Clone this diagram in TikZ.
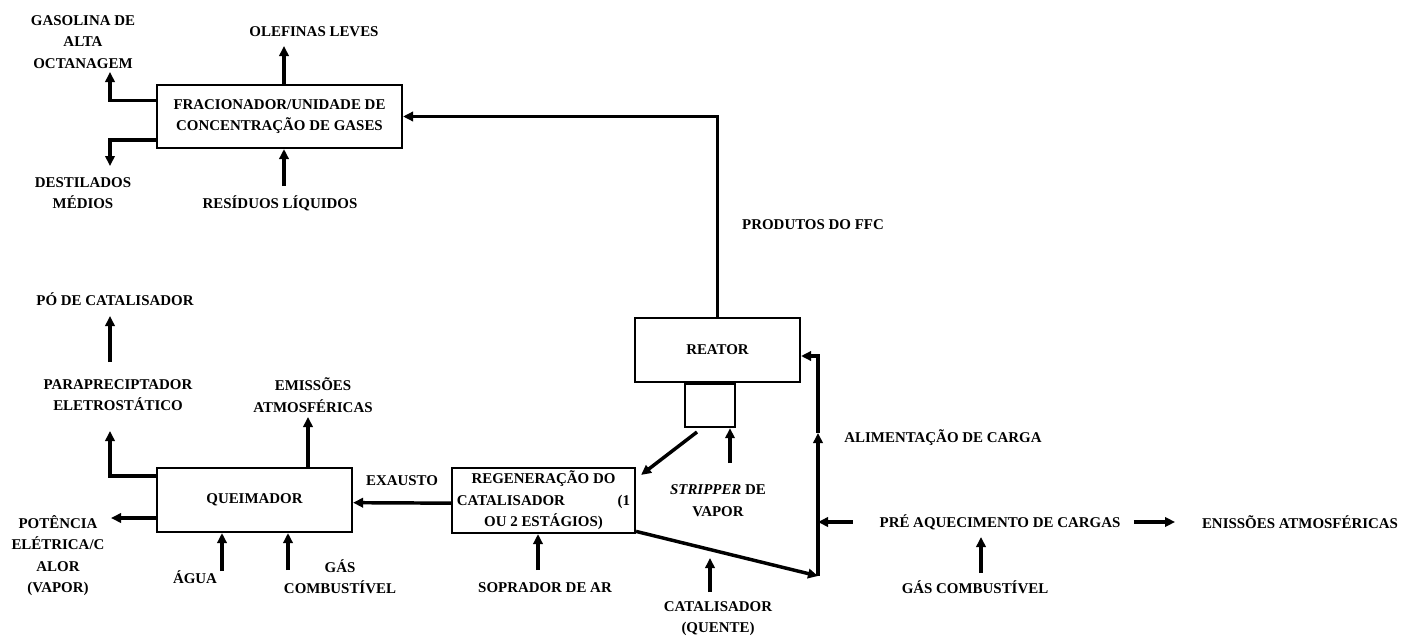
\documentclass[tikz,border=0pt]{standalone}
\usepackage{fontspec}
\setmainfont{Liberation Serif}
\usetikzlibrary{arrows.meta,positioning}

\begin{document}
\begin{tikzpicture}[x=0.75pt,y=-0.75pt,>={Triangle[length=7.5pt,width=7pt]},line join=miter,
    font=\bfseries\fontsize{11.2}{16}\selectfont,
    caixa/.style n args={2}{draw,line width=1.6pt,inner sep=0pt,align=center,
        minimum width=#1*0.75pt,minimum height=#2*0.75pt},
    rotulo/.style={align=center,inner sep=0pt},
    fluxo/.style={line width=2.6pt,->}]
    \useasboundingbox (0,0) rectangle (1403,639);

    % unidades
    \node[caixa={245}{63}] (frac) at (279.5,116.5) {FRACIONADOR/UNIDADE DE\\CONCENTRAÇÃO DE GASES};
    \node[caixa={165}{64}] (reator) at (717.5,350) {REATOR};
    \node[caixa={50}{43},below=0pt of reator,xshift=-5.6pt] (strip) {};
    \node[caixa={183}{65}] (regen) at (543.5,500.5)
        {REGENERAÇÃO DO\\\hbox to 130pt{CATALISADOR\hfill(1}\\OU 2 ESTÁGIOS)};
    \node[caixa={195}{64}] (queim) at (254.5,500) {QUEIMADOR};

    % rotulos
    \node[rotulo] (olef) at (314,32) {OLEFINAS LEVES};
    \node[rotulo] (gas) at (83,42) {GASOLINA DE\\ALTA\\OCTANAGEM};
    \node[rotulo] (dest) at (83,193) {DESTILADOS\\MÉDIOS};
    \node[rotulo] (res) at (280,203) {RESÍDUOS LÍQUIDOS};
    \node[rotulo] (prod) at (813,225) {PRODUTOS DO FFC};
    \node[rotulo] (po) at (115,299) {PÓ DE CATALISADOR};
    \node[rotulo] (para) at (118,395) {PARAPRECIPTADOR\\ELETROSTÁTICO};
    \node[rotulo] (emi) at (313,395) {EMISSÕES\\ATMOSFÉRICAS};
    \node[rotulo] (exa) at (402,481) {EXAUSTO};
    \node[rotulo] (pot) at (58,555.5) {POTÊNCIA\\ELÉTRICA/C\\ALOR\\(VAPOR)};
    \node[rotulo] (agua) at (195,577) {ÁGUA};
    \node[rotulo] (comb) at (340,577) {GÁS\\COMBUSTÍVEL};
    \node[rotulo] (sopr) at (545,588) {SOPRADOR DE AR};
    \node[rotulo] (vap) at (718,500.5) {\textit{STRIPPER} DE\\VAPOR};
    \node[rotulo] (quente) at (718,618.5) {CATALISADOR\\(QUENTE)};
    \node[rotulo] (alim) at (943,438) {ALIMENTAÇÃO DE CARGA};
    \node[rotulo] (pre) at (1000,522) {PRÉ AQUECIMENTO DE CARGAS};
    \node[rotulo] (enis) at (1300,522) {ENISSÕES ATMOSFÉRICAS};
    \node[rotulo] (comb2) at (975,587) {GÁS COMBUSTÍVEL};

    % pontas livres
    \coordinate (olefP) at (284,46);
    \coordinate (gasP) at (110,72);
    \coordinate (destP) at (110,166);
    \coordinate (resP) at (284,186);
    \coordinate (paraP) at (110,431);
    \coordinate (poA) at (110,362);
    \coordinate (poP) at (110,316);
    \coordinate (emiP) at (308,417);
    \coordinate (potP) at (111,518);
    \coordinate (aguaA) at (222,571);
    \coordinate (combA) at (288,570);
    \coordinate (soprA) at (538,570);
    \coordinate (stripA) at (697,432);
    \coordinate (vapA) at (730,463);
    \coordinate (quenteA) at (710,592);
    \coordinate (quenteP) at (710,558);
    \coordinate (junc) at (818,576);
    \coordinate (alimP) at (818,433);
    \coordinate (comb2A) at (981,573);
    \coordinate (comb2P) at (981,537);

    % fluxos do fracionador
    \draw[fluxo] (frac.north -| olefP) -- (olefP);
    \draw[fluxo] ([yshift=12pt]frac.west) -| (gasP);
    \draw[fluxo] ([yshift=-17.5pt]frac.west) -| (destP);
    \draw[fluxo] (resP) -- (frac.south -| resP);
    \draw[fluxo] (reator.north) |- (frac.east);

    % fluxos do queimador
    \draw[fluxo] ([yshift=18pt]queim.west) -| (paraP);
    \draw[fluxo] (poA) -- (poP);
    \draw[fluxo] (queim.north -| emiP) -- (emiP);
    \draw[fluxo] (queim.west |- potP) -- (potP);
    \draw[fluxo] (aguaA) -- (queim.south -| aguaA);
    \draw[fluxo] (combA) -- (queim.south -| combA);
    \draw[fluxo] ([yshift=-2pt]regen.west) -- ([yshift=-2pt]queim.east);

    % regenerador e reator
    \draw[fluxo] (soprA) -- (regen.south -| soprA);
    \draw[fluxo] (stripA) -- ([shift={(3.75pt,-6pt)}]regen.north east);
    \draw[fluxo] (vapA) -- (strip.south -| vapA);
    \draw[fluxo] (quenteA) -- (quenteP);
    \draw[fluxo] ([yshift=2pt]regen.south east) -- (junc);
    \draw[fluxo] (junc) -- (alimP);
    \draw[fluxo] (alimP) |- ([yshift=-4.5pt]reator.east);

    % preaquecimento
    \draw[fluxo,shorten <=20pt] (pre.west) -- (junc |- pre.west);
    \draw[fluxo,shorten <=10pt,shorten >=20pt] (pre.east) -- (enis.west);
    \draw[fluxo] (comb2A) -- (comb2P);
\end{tikzpicture}
\end{document}
